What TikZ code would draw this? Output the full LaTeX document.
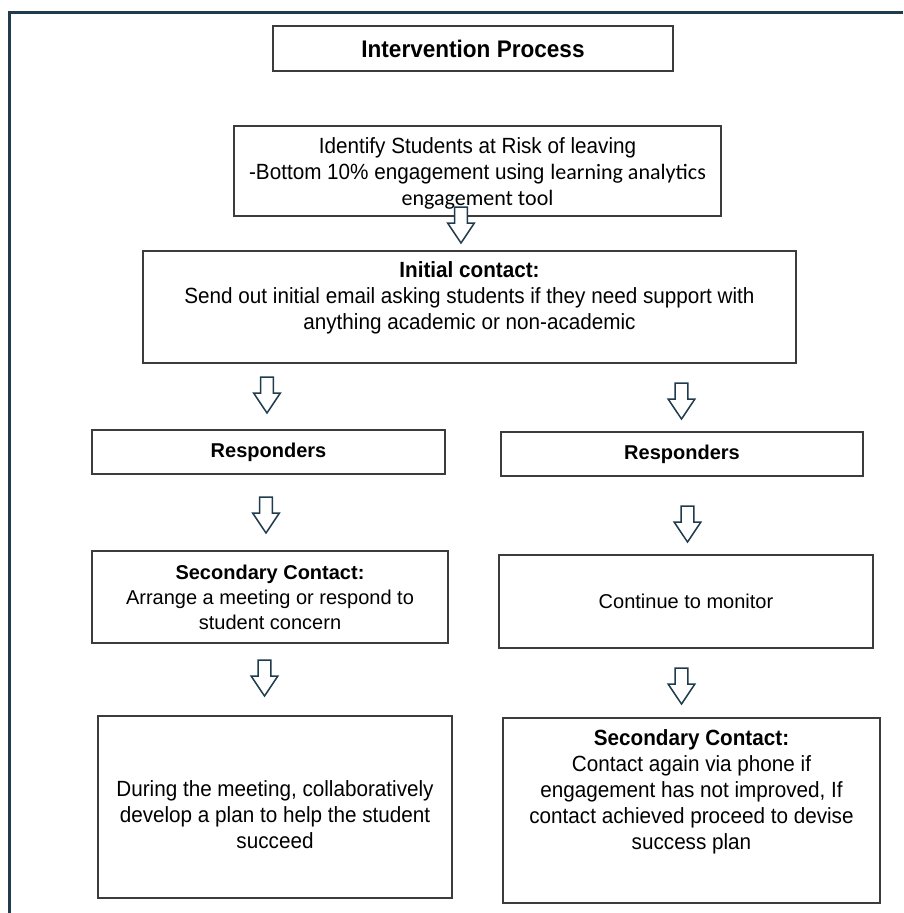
\documentclass[tikz,border=0pt]{standalone}
\usepackage{fontspec}
\setmainfont{Liberation Sans}
\newfontfamily\narrowfont{Liberation Sans}[FakeStretch=0.94]
\newfontfamily\calfont{Carlito}
\definecolor{framec}{HTML}{1F3B4D}
\definecolor{boxc}{HTML}{3C3C3C}
\begin{document}
\begin{tikzpicture}[x=1pt,y=-1pt,
  box/.style={draw=boxc, line width=1.15pt, inner sep=0pt, align=center, fill=white},
  nar/.style={font=\narrowfont\fontsize{22}{26}\selectfont, align=center},
  reg/.style={font=\fontsize{20}{25}\selectfont, align=center},
  arrline/.style={draw=framec, line width=1.5pt, fill=white, line join=miter},
  downarr/.pic={\path[arrline] (-6.3,0) -- (6.3,0) -- (6.3,16) -- (13.4,16) -- (0,36) -- (-13.4,16) -- (-6.3,16) -- cycle;}
]
\useasboundingbox (0,0) rectangle (903,913);
% outer frame (top and left edges)
\coordinate (fbl) at (9.5,913);
\coordinate (ftl) at (9.5,12.5);
\coordinate (ftr) at (903,12.5);
\draw[framec, line width=2.2pt] (fbl) -- (ftl) -- (ftr);

% boxes
\node[box, nar, minimum width=400pt, minimum height=45pt, font=\narrowfont\fontsize{24}{28}\selectfont] (title) at (473,48.5) {\textbf{Intervention Process}};
\node[box, minimum width=487pt, minimum height=90pt,
  label={[nar, yshift=-2.5pt]center:{Identify Students at Risk of leaving\\-Bottom 10\% engagement using {\calfont learning analytics}\\{\calfont engagement tool}}}] (ident) at (477.5,171) {};
\node[box, minimum width=653pt, minimum height=112pt,
  label={[nar, yshift=9pt]center:{\textbf{Initial contact:}\\Send out initial email asking students if they need support with\\anything academic or non-academic}}] (init) at (469.5,307) {};
\node[box, reg, minimum width=353pt, minimum height=44pt] (respL) at (268.5,452) {\textbf{Responders}};
\node[box, reg, minimum width=362pt, minimum height=44pt] (respR) at (682,454) {\textbf{Responders}};
\node[box, reg, minimum width=356pt, minimum height=92pt] (secL) at (270,597)
  {\textbf{Secondary Contact:}\\Arrange a meeting or respond to\\student concern};
\node[box, reg, minimum width=374pt, minimum height=93pt] (cont) at (686,601.5) {Continue to monitor};
\node[box, minimum width=354pt, minimum height=182pt,
  label={[nar, yshift=-8pt]center:{During the meeting, collaboratively\\develop a plan to help the student\\succeed}}] (botL) at (275,807) {};
\node[box, minimum width=377pt, minimum height=185pt,
  label={[nar, yshift=19pt]center:{\textbf{Secondary Contact:}\\Contact again via phone if\\engagement has not improved, If\\contact achieved proceed to devise\\success plan}}] (botR) at (691.5,810.5) {};

% block arrows
\pic (a1) at (461,207) {downarr};
\pic (aL1) at (267,377) {downarr};
\pic (aR1) at (681.5,383) {downarr};
\pic (aL2) at (266,497) {downarr};
\pic (aR2) at (687.5,506) {downarr};
\pic (aL3) at (264.5,660) {downarr};
\pic (aR3) at (681.5,668) {downarr};
\end{tikzpicture}
\end{document}
